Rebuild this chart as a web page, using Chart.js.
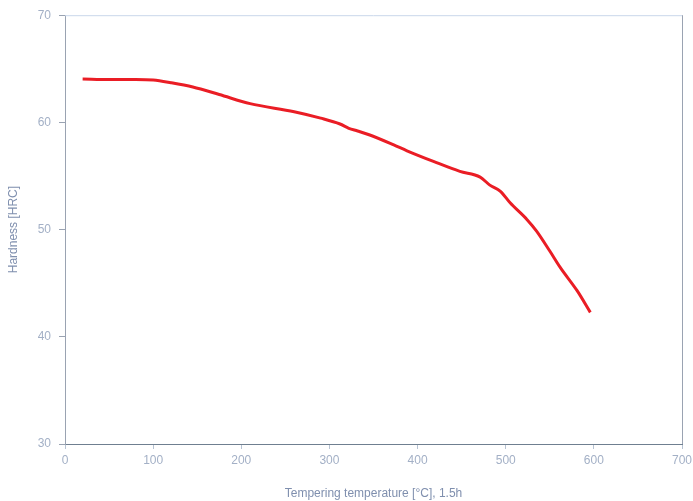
<!DOCTYPE html>
<html>
<head>
<meta charset="utf-8">
<script src="https://cdn.jsdelivr.net/npm/chart.js@4/dist/chart.umd.min.js"></script>
<style>
  html, body { margin: 0; padding: 0; background: #fff; }
  #wrap { width: 693px; height: 501px; }
</style>
</head>
<body>
<div id="wrap"><canvas id="myChart" width="693" height="501"></canvas></div>
<script>
// tempering temperature (°C) and hardness (HRC)
const temps = [20, 50, 80, 100, 120, 145, 175, 210, 260, 290, 312, 322, 332, 345, 373, 388, 418, 448, 471, 482, 494, 505, 524, 535, 550, 562, 581, 596];
const hardness = [64.05, 64.0, 64.0, 63.95, 63.7, 63.3, 62.6, 61.75, 61.0, 60.4, 59.85, 59.45, 59.2, 58.85, 57.9, 57.35, 56.36, 55.43, 54.9, 54.15, 53.57, 52.5, 50.95, 49.86, 48.0, 46.45, 44.3, 42.28];
const xTicks = [0, 100, 200, 300, 400, 500, 600, 700];
const yTicks = [30, 40, 50, 60, 70];

const labelColor = "#a3b0c6";
const titleColor = "#7f8fae";

// top and right frame lines
const framePlugin = {
  id: "frame",
  afterDraw(chart) {
    const { ctx, chartArea: a } = chart;
    ctx.save();
    ctx.lineWidth = 1;
    ctx.strokeStyle = "#c9d7ea";
    ctx.beginPath();
    ctx.moveTo(a.left, a.top + 0.5);
    ctx.lineTo(a.right, a.top + 0.5);
    ctx.stroke();
    ctx.strokeStyle = "#9aa3b2";
    ctx.beginPath();
    ctx.moveTo(a.right + 0.5, a.top);
    ctx.lineTo(a.right + 0.5, a.bottom);
    ctx.stroke();
    ctx.restore();
  },
};

const ctx = document.getElementById("myChart").getContext("2d");
new Chart(ctx, {
  type: "line",
  data: {
    datasets: [
      {
        label: "Hardness",
        data: temps.map((t, i) => ({ x: t, y: hardness[i] })),
        borderColor: "#ea1d25",
        borderWidth: 3,
        pointRadius: 0,
        cubicInterpolationMode: "monotone",
        fill: false,
      },
    ],
  },
  options: {
    responsive: false,
    animation: false,
    layout: { padding: { top: 13, right: 11, left: 0, bottom: 0 } },
    plugins: {
      legend: { display: false },
      tooltip: { enabled: false },
    },
    scales: {
      x: {
        type: "linear",
        min: 0,
        max: 700,
        afterBuildTicks: (scale) => {
          scale.ticks = xTicks.map((v) => ({ value: v }));
        },
        afterFit: (scale) => {
          scale.height = 57;
          scale.paddingRight = 0;
          scale.paddingLeft = 0;
        },
        grid: {
          drawOnChartArea: false,
          tickLength: 5,
          color: "#b7c3d3",
        },
        border: { color: "#6f7f90", width: 1 },
        ticks: {
          color: labelColor,
          padding: 4,
          maxRotation: 0,
          font: { family: "Liberation Sans", size: 12 },
        },
        title: {
          display: true,
          text: "Tempering temperature [°C], 1.5h",
          color: titleColor,
          padding: { top: 2, bottom: 0 },
          font: { family: "Liberation Sans", size: 12 },
        },
      },
      y: {
        type: "linear",
        min: 30,
        max: 70,
        afterBuildTicks: (scale) => {
          scale.ticks = yTicks.map((v) => ({ value: v }));
        },
        afterFit: (scale) => {
          scale.width = 65;
        },
        grid: {
          drawOnChartArea: false,
          tickLength: 6,
          color: "#9aa3b2",
        },
        border: { color: "#9aa3b2", width: 1 },
        ticks: {
          color: labelColor,
          padding: 8,
          font: { family: "Liberation Sans", size: 12 },
        },
        title: {
          display: true,
          text: "Hardness [HRC]",
          color: titleColor,
          padding: { top: 6, bottom: 8 },
          font: { family: "Liberation Sans", size: 12 },
        },
      },
    },
  },
  plugins: [framePlugin],
});
</script>
</body>
</html>
